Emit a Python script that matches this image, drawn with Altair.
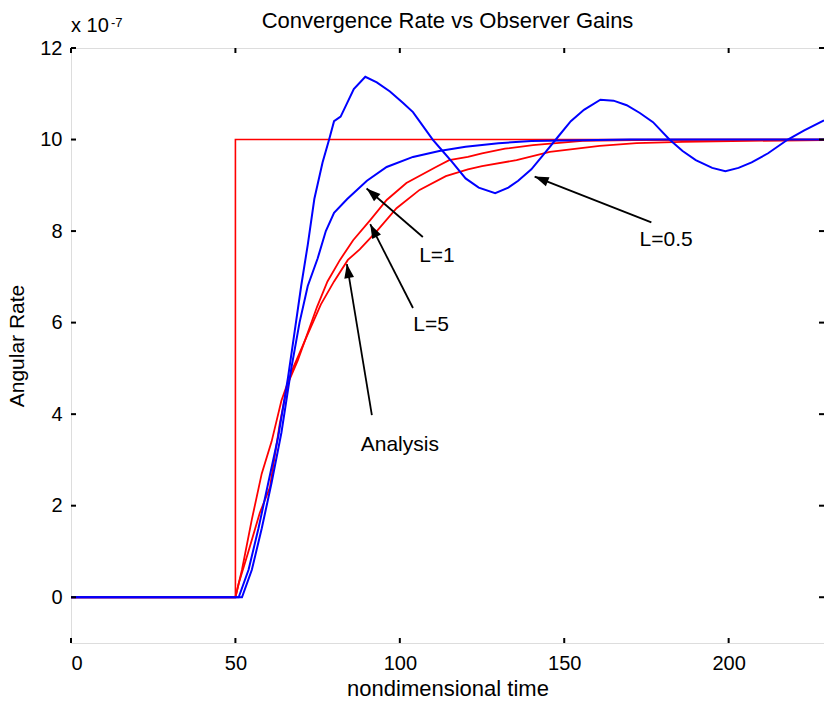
import math
import altair as alt
import pandas as pd

# ---------------- data ----------------
t_input = [0, 50, 50, 229]
v_input = [0, 0, 10, 10]

t_an = [0, 50, 52, 55, 58, 61, 64, 67.5, 71.7, 76, 80, 84.2, 87.8, 93, 99, 106, 114,
        120.7, 125, 135.5, 145.6, 160.8, 172, 186, 206, 229]
v_an = [0, 0, 0.6, 1.7, 2.7, 3.4, 4.3, 5.0, 5.7, 6.4, 6.9, 7.37, 7.6, 8.0, 8.5, 8.9, 9.2,
        9.35, 9.42, 9.55, 9.73, 9.86, 9.92, 9.95, 9.97, 9.99]

t_l5 = [0, 50, 51, 53.8, 57.4, 60.5, 63.5, 66, 69, 72.6, 74.8, 78, 81.8, 85.8, 91, 96,
        102, 111, 115, 120.7, 125, 132, 140.5, 155.6, 171, 229]
v_l5 = [0, 0, 0.3, 0.96, 1.84, 2.4, 3.8, 4.68, 5.18, 5.9, 6.34, 6.9, 7.37, 7.8, 8.24, 8.68,
        9.05, 9.4, 9.55, 9.62, 9.7, 9.8, 9.88, 9.97, 9.99, 10.0]

t_l1 = [0, 52, 55, 58, 61, 64, 67, 69.5, 72, 75, 77.5, 80, 84, 90, 96, 104, 112, 120,
        130, 140, 160, 170, 229]
v_l1 = [0, 0, 0.6, 1.5, 2.5, 3.6, 5.0, 6.0, 6.8, 7.4, 8.0, 8.4, 8.7, 9.1, 9.4, 9.62, 9.75,
        9.84, 9.92, 9.97, 9.99, 10.0, 10.0]

t_l05 = [0, 51, 54, 57, 60, 63, 66, 68, 70, 72, 74, 76.5, 78.5, 80, 82, 84, 86, 89.5, 93,
         97, 101, 104, 107, 110, 113, 116, 120, 124, 129, 133, 136, 140, 144, 148, 152,
         156, 161, 165, 169, 173, 177, 182, 186, 190, 195, 199, 203, 207, 212, 218, 223, 229]
v_l05 = [0, 0, 0.6, 1.5, 2.5, 3.5, 4.8, 5.8, 6.8, 7.7, 8.7, 9.5, 10.0, 10.4, 10.5, 10.8,
         11.1, 11.37, 11.25, 11.05, 10.8, 10.6, 10.3, 10.0, 9.75, 9.5, 9.15, 8.95, 8.83,
         8.95, 9.1, 9.35, 9.7, 10.05, 10.4, 10.65, 10.87, 10.85, 10.75, 10.58, 10.38, 10.0,
         9.75, 9.55, 9.38, 9.31, 9.38, 9.5, 9.7, 10.0, 10.2, 10.42]

# annotations: label text, label position, arrow tail, arrow tip
ann_text = ["L=1", "L=5", "Analysis", "L=0.5"]
ann_tx = [111.3, 109.5, 100.0, 181.0]
ann_ty = [7.45, 5.95, 3.32, 7.8]
arr_x0 = [107.0, 104.0, 91.5, 176.5]
arr_y0 = [7.87, 6.32, 3.98, 8.19]
arr_x1 = [89.9, 91.0, 83.9, 141.0]
arr_y1 = [8.93, 8.15, 7.28, 9.19]

x_ticks = [0, 50, 100, 150, 200]
y_ticks = [0, 2, 4, 6, 8, 10, 12]

TITLE = "Convergence Rate vs Observer Gains"

# ---------------- layout ----------------
W, H = 753, 595
XMIN, XMAX = 0, 229
YMIN, YMAX = -1, 12
sx = W / (XMAX - XMIN)
sy = H / (YMAX - YMIN)
FONT = "Liberation Sans"

xs = alt.Scale(domain=[XMIN, XMAX], nice=False, zero=False)
ys = alt.Scale(domain=[YMIN, YMAX], nice=False, zero=False)
x_axis = alt.Axis(values=x_ticks, ticks=False, domain=False, grid=False,
                  labelFontSize=20, labelFont=FONT, labelColor="black", labelPadding=10,
                  title="nondimensional time", titleFont=FONT, titleFontSize=22,
                  titleFontWeight="normal", titleColor="black", titleY=52,
                  titleBaseline="alphabetic")
y_axis = alt.Axis(values=y_ticks, ticks=False, domain=False, grid=False,
                  labelFontSize=20, labelFont=FONT, labelColor="black", labelPadding=9,
                  title="Angular Rate", titleFont=FONT, titleFontSize=21,
                  titleFontWeight="normal", titleColor="black", titleX=-53.5,
                  titleY=H / 2, titleAngle=270, titleBaseline="middle", titleAlign="center")


def X(f):
    return alt.X(f, type="quantitative", scale=xs, axis=x_axis)


def Y(f):
    return alt.Y(f, type="quantitative", scale=ys, axis=y_axis)


def series_layer(ts, vs, color, width):
    df = pd.DataFrame({"t": ts, "v": vs, "i": list(range(len(ts)))})
    return alt.Chart(df).mark_line(color=color, strokeWidth=width, clip=True).encode(
        x=X("t"), y=Y("v"), order=alt.Order("i:Q"))


lines = [
    series_layer(t_input, v_input, "#ff0000", 1.6),
    series_layer(t_an, v_an, "#ff0000", 1.8),
    series_layer(t_l5, v_l5, "#ff0000", 1.8),
    series_layer(t_l1, v_l1, "#0000ff", 2.0),
    series_layer(t_l05, v_l05, "#0000ff", 2.0),
]

# annotations
ang = []
for x0, y0, x1, y1 in zip(arr_x0, arr_y0, arr_x1, arr_y1):
    dx = (x1 - x0) * sx
    dy = -(y1 - y0) * sy
    ang.append(math.degrees(math.atan2(dx, -dy)) % 360)

adf = pd.DataFrame({"text": ann_text, "tx": ann_tx, "ty": ann_ty,
                    "x0": arr_x0, "y0": arr_y0, "x1": arr_x1, "y1": arr_y1, "ang": ang})

arrow_lines = alt.Chart(adf).mark_rule(color="black", strokeWidth=1.8).encode(
    x=X("x0"), y=Y("y0"), x2="x1", y2="y1")
arrow_heads = alt.Chart(adf).mark_point(
    shape="M0,0L-0.7,2L0.7,2Z", filled=True, color="black", opacity=1, size=196,
    strokeWidth=0).encode(x=X("x1"), y=Y("y1"), angle=alt.Angle("ang:Q", scale=None))
labels = alt.Chart(adf).mark_text(font=FONT, fontSize=21, color="black",
                                  baseline="middle", align="center").encode(
    x=X("tx"), y=Y("ty"), text="text:N")

# inward tick marks
ytdf = pd.DataFrame({"v": y_ticks})
xtdf = pd.DataFrame({"t": x_ticks})
tick_left = alt.Chart(ytdf).mark_rule(color="black", strokeWidth=2).encode(
    x=alt.value(0), x2=alt.value(5), y=Y("v"))
tick_right = alt.Chart(ytdf).mark_rule(color="black", strokeWidth=2).encode(
    x=alt.value(W - 5), x2=alt.value(W), y=Y("v"))
tick_bottom = alt.Chart(xtdf).mark_rule(color="black", strokeWidth=2).encode(
    x=X("t"), y=alt.value(H - 5), y2=alt.value(H))
tick_top = alt.Chart(xtdf).mark_rule(color="black", strokeWidth=2).encode(
    x=X("t"), y=alt.value(0), y2=alt.value(5))

# title and exponent label as text
one = pd.DataFrame({"a": [0]})
title_txt = alt.Chart(one).mark_text(font=FONT, fontSize=22, color="black",
                                     align="center", baseline="alphabetic").encode(
    x=alt.value(W / 2), y=alt.value(-20), text=alt.value(TITLE))
exp_base = alt.Chart(one).mark_text(font=FONT, fontSize=20, color="black",
                                    align="left", baseline="alphabetic").encode(
    x=alt.value(0), y=alt.value(-16), text=alt.value("x 10"))
exp_pow = alt.Chart(one).mark_text(font=FONT, fontSize=13, color="black",
                                   align="left", baseline="alphabetic").encode(
    x=alt.value(40), y=alt.value(-21), text=alt.value("-7"))

chart = alt.layer(
    *lines, arrow_lines, arrow_heads, labels,
    tick_left, tick_right, tick_bottom, tick_top, title_txt, exp_base, exp_pow
).properties(
    width=W, height=H,
    autosize=alt.AutoSizeParams(type="none"),
    padding={"left": 71, "top": 48, "right": 0, "bottom": 61},
).configure_view(stroke="black", strokeWidth=2).configure(background="white")

chart.save("out.html", embed_options={"renderer": "svg", "actions": False})
